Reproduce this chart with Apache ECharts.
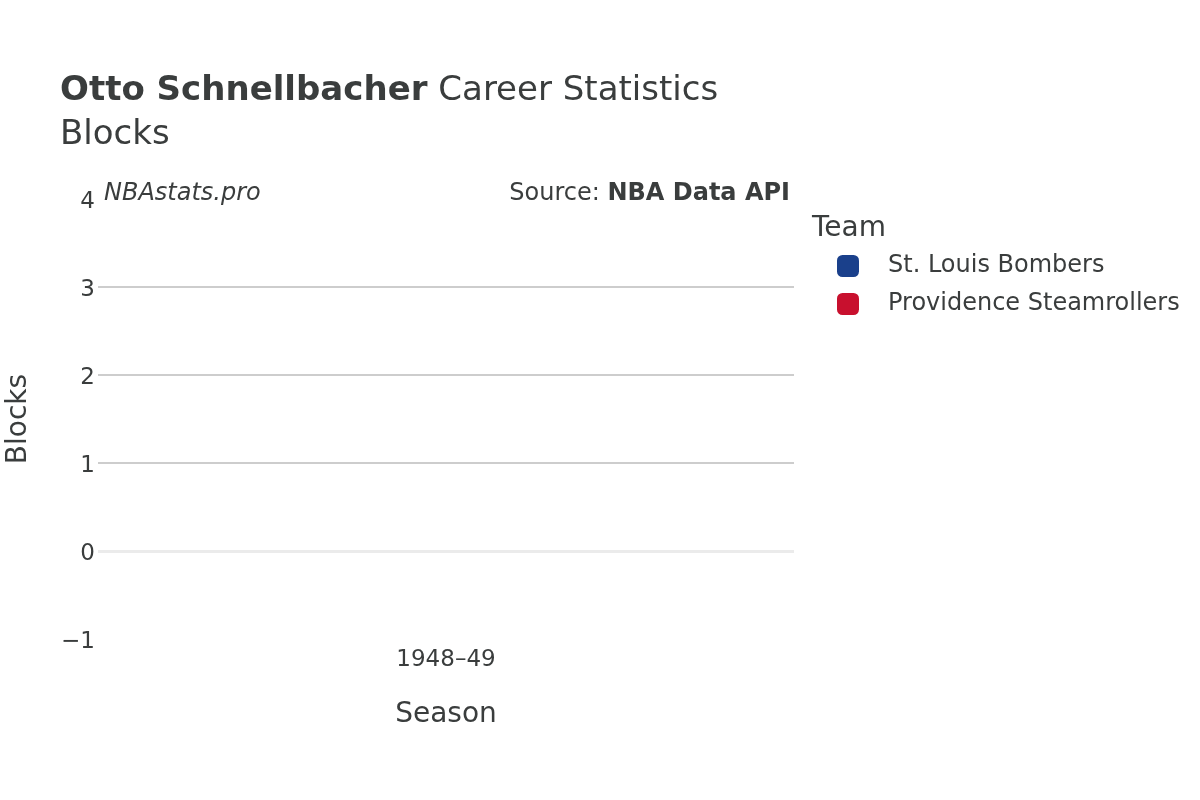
<!DOCTYPE html>
<html><head><meta charset="utf-8">
<script src="https://cdn.jsdelivr.net/npm/echarts@6/dist/echarts.min.js"></script>
<style>html,body{margin:0;padding:0;background:#fff}#c{width:1200px;height:800px}</style>
</head><body><div id="c"></div>
<script>
const seasons = ["1948–49"];
const teams = ["St. Louis Bombers", "Providence Steamrollers"];
const teamColors = ["#1A408B", "#C8102E"];
const blocksStLouis = [0];
const blocksProvidence = [0];
const yTicks = [-1, 0, 1, 2, 3, 4];

const font = "DejaVu Sans";
const chart = echarts.init(document.getElementById('c'));
chart.setOption({
  backgroundColor: '#fff',
  animation: false,
  textStyle: { fontFamily: font },
  title: {
    text: '{b|Otto Schnellbacher} Career Statistics\nBlocks',
    left: 55, top: 64,
    textStyle: {
      fontFamily: font, fontSize: 34, fontWeight: 'normal', color: '#3a3d3d', lineHeight: 44,
      rich: { b: { fontFamily: font, fontSize: 34, fontWeight: 'bold', color: '#3a3d3d' } }
    }
  },
  graphic: [
    { type: 'text', left: 104, top: 182, style: { text: 'NBAstats.pro', font: 'italic 24px "DejaVu Sans"', fill: '#3a3d3d' } },
    { type: 'text', right: 410, top: 182, style: { text: '{n|Source: }{b|NBA Data API}', rich: { n: { font: '24px "DejaVu Sans"', fill: '#3a3d3d' }, b: { font: 'bold 24px "DejaVu Sans"', fill: '#3a3d3d' } } } },
    { type: 'text', left: 812, top: 215, style: { text: 'Team', font: '28px "DejaVu Sans"', fill: '#3a3d3d' } }
  ],
  legend: {
    orient: 'vertical', left: 832, top: 249,
    itemWidth: 22, itemHeight: 22, itemGap: 14,
    icon: 'roundRect',
    textStyle: { fontFamily: font, fontSize: 24, lineHeight: 22, color: '#3a3d3d', padding: [0, 0, 0, 24] },
    data: teams
  },
  grid: { left: 98, right: 406, top: 199, bottom: 161, outerBoundsMode: 'none', containLabel: false },
  xAxis: {
    type: 'category', data: seasons,
    name: 'Season', nameLocation: 'middle', nameGap: 62,
    nameTextStyle: { fontFamily: font, fontSize: 28, color: '#3a3d3d' },
    axisLine: { show: false, onZero: false },
    axisTick: { show: false },
    axisLabel: { fontFamily: font, fontSize: 23, color: '#3a3d3d', margin: 10 }
  },
  yAxis: {
    type: 'value', min: yTicks[0], max: yTicks[yTicks.length - 1], interval: 1,
    name: 'Blocks', nameLocation: 'middle', nameGap: 65,
    nameTextStyle: { fontFamily: font, fontSize: 28, color: '#3a3d3d' },
    axisLine: { show: false }, axisTick: { show: false },
    axisLabel: { fontFamily: font, fontSize: 23, color: '#3a3d3d', margin: 3,
      formatter: v => '{a|' + (v < 0 ? '\u2212' + Math.abs(v) : String(v)) + '}',
      rich: { a: { fontFamily: font, fontSize: 23, color: '#3a3d3d', padding: [6, 0, 0, 0] } } },
    splitLine: { show: true, showMinLine: false, showMaxLine: false, lineStyle: { color: '#bdbdbd', width: 1.5 } }
  },
  series: [
    { name: teams[0], type: 'bar', data: blocksStLouis, itemStyle: { color: teamColors[0] },
      markLine: { silent: true, symbol: 'none', label: { show: false },
        lineStyle: { color: '#ebebeb', width: 3, type: 'solid' }, data: [{ yAxis: 0 }] } },
    { name: teams[1], type: 'bar', data: blocksProvidence, itemStyle: { color: teamColors[1] } }
  ]
});
</script></body></html>
